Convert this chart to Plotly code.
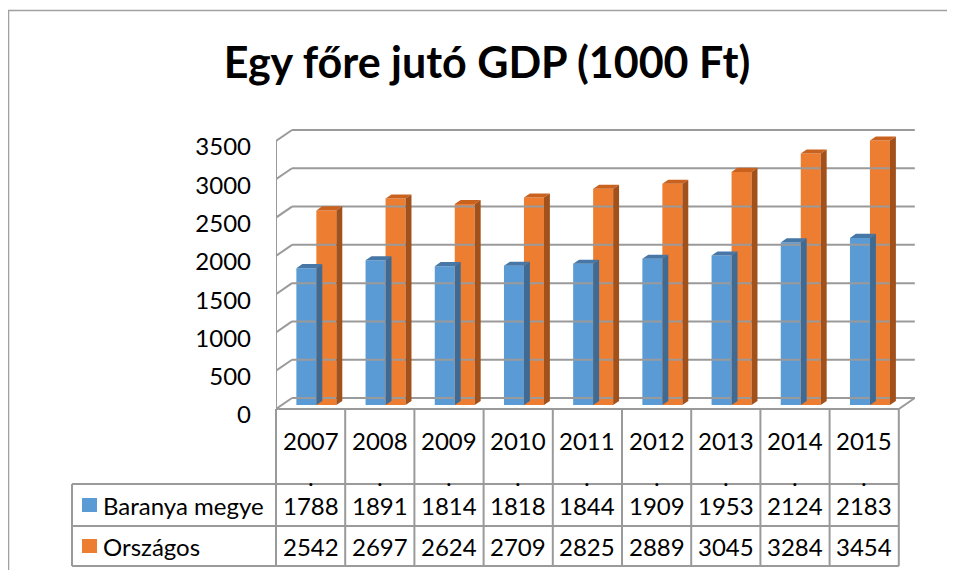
import plotly.graph_objects as go

# ---- data ----
years = ["2007", "2008", "2009", "2010", "2011", "2012", "2013", "2014", "2015"]
baranya = [1788, 1891, 1814, 1818, 1844, 1909, 1953, 2124, 2183]
orszagos = [2542, 2697, 2624, 2709, 2825, 2889, 3045, 3284, 3454]
series_names = ["Baranya megye", "Országos"]
y_ticks = [0, 500, 1000, 1500, 2000, 2500, 3000, 3500]
title_text = "Egy főre jutó GDP (1000 Ft)"

# ---- layout geometry (reference page pixels, body margin compensated) ----
OFF = 8
W, H = 947, 562


def P(v):
    return v - OFF


L, R, T, B = P(276), P(915), P(129), P(411)
FRONT0 = P(409)
PX_X = 69.2
PX_Y = 268 / 3500
DX_PX, DY_PX = 16, 11
dxu = DX_PX / PX_X
dyu = DY_PX / PX_Y
xmin = -0.5
xmax = xmin + (R - L) / PX_X
ymin = -(B - FRONT0) / PX_Y
ymax = ymin + (B - T) / PX_Y
n = len(years)
xl, xr = -0.5, n - 0.5

FONT = "Lato"
GRID = "#9a9a9a"
C_FRONT = ["#5B9BD5", "#ED7D31"]
C_TOP = ["#4677A6", "#C9621F"]
C_SIDE = ["#3E6A94", "#A3511B"]

f1, f2 = 0.36, 0.73  # bar front / back depth fraction
bw = 20 / PX_X


def xp(x):
    return (x - xmin) / (xmax - xmin)


def yp_px(py):
    return (B - P(py)) / (B - T)


def xp_px(px):
    return (P(px) - L) / (R - L)


fig = go.Figure()

# back wall gridlines + left wall diagonals + floor
gx, gy = [], []
for v in y_ticks:
    gx += [xl + dxu, xr + dxu, None, xl, xl + dxu, None]
    gy += [v + dyu, v + dyu, None, v, v + dyu, None]
gx += [xl, xr, xr + dxu, None, xl, xl]
gy += [0, 0, dyu, None, 0, y_ticks[-1]]
fig.add_trace(go.Scatter(x=gx, y=gy, mode="lines", line=dict(color=GRID, width=2),
                         hoverinfo="skip", showlegend=False, cliponaxis=False))

# 3D bars
for si, vals in enumerate([baranya, orszagos]):
    ox = f1 * dxu
    oy = f1 * dyu
    ddx = (f2 - f1) * dxu
    ddy = (f2 - f1) * dyu
    lefts = [i + ox + (si - 1) * bw for i in range(n)]
    fig.add_trace(go.Bar(x=[l + bw / 2 for l in lefts], y=vals, base=[oy] * n, width=bw,
                         marker=dict(color=C_FRONT[si], line=dict(width=0)),
                         name=series_names[si], showlegend=False, hoverinfo="skip"))
    tx, ty, sx, sy = [], [], [], []
    for i, v in enumerate(vals):
        a, b = lefts[i], lefts[i] + bw
        top = oy + v
        tx += [a, b, b + ddx, a + ddx, a, None]
        ty += [top, top, top + ddy, top + ddy, top, None]
        sx += [b, b, b + ddx, b + ddx, b, None]
        sy += [oy, top, top + ddy, oy + ddy, oy, None]
    fig.add_trace(go.Scatter(x=tx, y=ty, fill="toself", fillcolor=C_TOP[si], mode="none",
                             hoverinfo="skip", showlegend=False))
    fig.add_trace(go.Scatter(x=sx, y=sy, fill="toself", fillcolor=C_SIDE[si], mode="none",
                             hoverinfo="skip", showlegend=False))

fig.update_layout(barmode="overlay")

# ---- data table ----
shapes = []
row_top, row1, row2, row_bot = 409, 484, 526, 566
left_px = 72
line = dict(color=GRID, width=2)
for k in range(n + 1):
    x = xp(k - 0.5)
    shapes.append(dict(type="line", xref="paper", yref="paper", x0=x, x1=x,
                       y0=yp_px(row_top), y1=yp_px(row_bot), line=line))
for py in [row1, row2, row_bot]:
    shapes.append(dict(type="line", xref="paper", yref="paper", x0=xp_px(left_px), x1=xp(xr),
                       y0=yp_px(py), y1=yp_px(py), line=line))
shapes.append(dict(type="line", xref="paper", yref="paper", x0=xp_px(left_px), x1=xp_px(left_px),
                   y0=yp_px(row1), y1=yp_px(row_bot), line=line))
# legend keys
for si, cy in enumerate([505, 546]):
    shapes.append(dict(type="rect", xref="paper", yref="paper", x0=xp_px(82), x1=xp_px(97),
                       y0=yp_px(cy + 7), y1=yp_px(cy - 7), fillcolor=C_FRONT[si],
                       line=dict(width=0)))
# outer border
shapes.append(dict(type="rect", xref="paper", yref="paper", x0=xp_px(8.5), x1=xp_px(990),
                   y0=yp_px(620), y1=yp_px(10.5), line=dict(color="#a0a0a0", width=1.5)))

annotations = []
tf = dict(family=FONT, size=24, color="#000000")
for i, yr in enumerate(years):
    annotations.append(dict(x=i, y=yp_px(440), xref="x", yref="paper", text=yr,
                            showarrow=False, font=tf, xanchor="center", yanchor="middle"))
    annotations.append(dict(x=i, y=yp_px(476), xref="x", yref="paper", text=".",
                            showarrow=False, font=tf, xanchor="center", yanchor="middle"))
    annotations.append(dict(x=i, y=yp_px(505), xref="x", yref="paper", text=str(baranya[i]),
                            showarrow=False, font=tf, xanchor="center", yanchor="middle"))
    annotations.append(dict(x=i, y=yp_px(546), xref="x", yref="paper", text=str(orszagos[i]),
                            showarrow=False, font=tf, xanchor="center", yanchor="middle"))
for si, cy in enumerate([505, 546]):
    annotations.append(dict(x=xp_px(101), y=yp_px(cy), xref="paper", yref="paper",
                            text=series_names[si], showarrow=False, font=tf,
                            xanchor="left", yanchor="middle"))

fig.update_layout(
    width=W, height=H,
    margin=dict(l=L, r=W - R, t=T, b=H - B, pad=0),
    paper_bgcolor="white", plot_bgcolor="white",
    title=dict(text="<b>" + title_text + "</b>", x=P(487) / W, xanchor="center",
               y=1 - P(63) / H, yanchor="middle", yref="container",
               font=dict(family=FONT, size=43, color="#000000")),
    xaxis=dict(range=[xmin, xmax], showgrid=False, zeroline=False, showticklabels=False,
               showline=False, ticks="", fixedrange=True),
    yaxis=dict(range=[ymin, ymax], showgrid=False, zeroline=False, showline=False,
               tickvals=y_ticks, ticktext=[str(v) for v in y_ticks], ticks="",
               ticklabelstandoff=24, ticklabelshift=6, automargin=False,
               tickfont=dict(family=FONT, size=24, color="#000000")),
    shapes=shapes, annotations=annotations, showlegend=False,
)

fig.write_html("out.html")
